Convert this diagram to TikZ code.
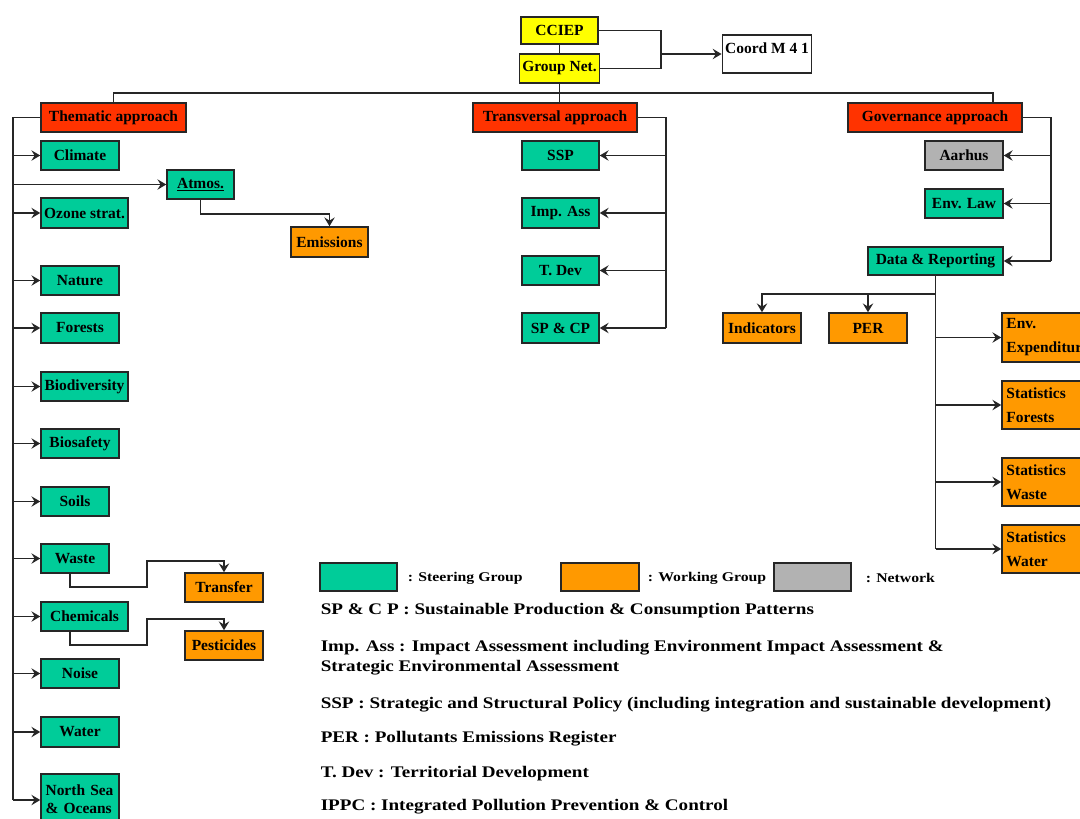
\documentclass[tikz,border=0pt]{standalone}
\usepackage{fontspec}
\setmainfont{Liberation Serif}
\newfontfamily\widefont{Liberation Serif}[FakeStretch=1.18]
\usetikzlibrary{arrows.meta, positioning, calc}
\definecolor{cyellow}{HTML}{FFFF00}
\definecolor{cred}{HTML}{FF3300}
\definecolor{cgreen}{HTML}{00CC99}
\definecolor{corange}{HTML}{FF9900}
\definecolor{cgrey}{HTML}{B2B2B2}
\definecolor{cline}{HTML}{262626}
\tikzset{
  every picture/.style={line width=1.1pt},
  box/.style={draw=cline, fill=#1, inner sep=2pt, font=\bfseries\fontsize{11}{13}\selectfont},
  box/.default=cgreen,
  sz/.style 2 args={minimum width=#1*0.025cm, minimum height=#2*0.025cm},
  twoline/.style={align=left, text width=#1, inner sep=3pt},
  arrow/.style={-{Stealth[length=2.2mm, width=2.6mm, inset=0.8mm]}, draw=cline},
  link/.style={draw=cline},
  legend/.style={font=\widefont\bfseries\fontsize{11.5}{14.2}\selectfont, anchor=west, inner sep=0pt, align=left},
  key/.style={font=\widefont\bfseries\fontsize{9.5}{11}\selectfont, anchor=west, inner sep=0pt},
}

\begin{document}
\begin{tikzpicture}[x=0.025cm, y=-0.025cm]
  \useasboundingbox (0,0) rectangle (1080,818);
  \clip (0,0) rectangle (1080,818);
  \fill[white] (0,0) rectangle (1080,818);

  \node[box=cyellow, sz={77}{27}] (cciep) at (559.5,30.5) {CCIEP};
  \node[box=cyellow, sz={77}{29}] (groupnet) at (559.5,68.5) {Group Net.};
  \node[box=white, sz={88}{38}, text depth=0.3cm] (coord) at (767,54) {Coord M 4 1};
  \coordinate (jn) at (661,54);
  \draw[link] (cciep) -- (groupnet);
  \draw[link] (cciep.east) -| (jn) |- (groupnet.east);
  \draw[arrow] (jn) -- (coord.west);

  \node[box=cred, sz={145}{29}] (thematic) at (113.5,117.5) {Thematic approach};
  \node[box=cred, sz={164}{29}] (transversal) at (555,117.5) {Transversal approach};
  \node[box=cred, sz={174}{29}] (governance) at (935,117.5) {Governance approach};
  \coordinate (bus) at (560,93);
  \draw[link] (groupnet.south) -- (groupnet.south |- transversal.north);
  \draw[link] (thematic.north) |- (bus) -| ([xshift=1.45cm]governance.north);

  \node[box, sz={78}{29}] (climate) at (80,155.5) {Climate};
  \node[box, sz={67}{29}] (atmos) at (200.5,184.5) {\underline{Atmos.}};
  \node[box, sz={87}{30}] (ozone) at (84.5,213) {Ozone strat.};
  \node[box=corange, sz={77}{30}] (emissions) at (329.5,242) {Emissions};
  \node[box, sz={78}{29}] (nature) at (80,280.5) {Nature};
  \node[box, sz={78}{30}] (forests) at (80,328) {Forests};
  \node[box, sz={87}{29}] (biodiv) at (84.5,386.5) {Biodiversity};
  \node[box, sz={78}{29}] (biosafety) at (80,443.5) {Biosafety};
  \node[box, sz={68}{29}] (soils) at (75,501.5) {Soils};
  \node[box, sz={68}{29}] (waste) at (75,558.5) {Waste};
  \node[box=corange, sz={78}{29}] (transfer) at (224,587.5) {Transfer};
  \node[box, sz={87}{29}] (chemicals) at (84.5,616.5) {Chemicals};
  \node[box=corange, sz={78}{29}] (pesticides) at (224,645.5) {Pesticides};
  \node[box, sz={78}{29}] (noise) at (80,673.5) {Noise};
  \node[box, sz={78}{30}] (water) at (80,732) {Water};
  \node[box, sz={78}{50}, twoline=1.72cm] (northsea) at (80,799) {North Sea\\\& Oceans};
  \coordinate (tl) at (13,800);
  \draw[link] (thematic.west) -| (tl);
  \foreach \n in {climate, atmos, ozone, nature, forests, biodiv, biosafety, soils, waste, chemicals, noise, water}
    \draw[arrow] (tl |- \n.west) -- (\n.west);
  \draw[arrow] (tl) -- (tl -| northsea.west);
  \draw[arrow] (atmos.south) -- ++(0,14) -| (emissions.north);
  \draw[arrow] ([xshift=-0.125cm]waste.south) -- ++(0,13) -| ++(77,-26) -| (transfer.north);
  \draw[arrow] ([xshift=-0.36cm]chemicals.south) -- ++(0,13) -| ++(77,-26) -| (pesticides.north);

  \node[box, sz={77}{29}] (ssp) at (560.5,155.5) {SSP};
  \node[box, sz={77}{30}] (impass) at (560.5,213) {Imp. Ass};
  \node[box, sz={77}{29}] (tdev) at (560.5,270.5) {T. Dev};
  \node[box, sz={77}{30}] (spcp) at (560.5,328) {SP \& CP};
  \coordinate (tv) at (666,328);
  \draw[link] (transversal.east) -| (tv);
  \foreach \n in {ssp, impass, tdev, spcp}
    \draw[arrow] (tv |- \n.east) -- (\n.east);

  \node[box=cgrey, sz={78}{29}] (aarhus) at (964,155.5) {Aarhus};
  \node[box, sz={78}{29}] (envlaw) at (964,203.5) {Env. Law};
  \node[box, sz={135}{28}] (datarep) at (935.5,261) {Data \& Reporting};
  \coordinate (gv) at (1051,261);
  \draw[link] (governance.east) -| (gv);
  \foreach \n in {aarhus, envlaw, datarep}
    \draw[arrow] (gv |- \n.east) -- (\n.east);

  \node[box=corange, sz={78}{30}] (indicators) at (762,328) {Indicators};
  \node[box=corange, sz={78}{30}] (per) at (868,328) {PER};
  \node[box=corange, sz={95}{49}, twoline=2.15cm] (envexp) at (1049.5,337.5) {Env.\\[4pt]Expenditure};
  \node[box=corange, sz={95}{48}, twoline=2.15cm] (statfor) at (1049.5,405) {Statistics\\[4pt]Forests};
  \node[box=corange, sz={95}{48}, twoline=2.15cm] (statwaste) at (1049.5,482) {Statistics\\[4pt]Waste};
  \node[box=corange, sz={95}{48}, twoline=2.15cm] (statwater) at (1049.5,549) {Statistics\\[4pt]Water};
  \coordinate (db) at (935.5,294);
  \coordinate (dv) at (935.5,549);
  \draw[link] (datarep.south) -- (dv);
  \draw[arrow] (db) -| (indicators.north);
  \draw[arrow] (db -| per.north) -- (per.north);
  \foreach \n in {envexp, statfor, statwaste, statwater}
    \draw[arrow] (dv |- \n.west) -- (\n.west);

  \node[box, sz={77}{28}] (kgreen) at (358.5,577) {};
  \node[box=corange, sz={78}{28}] (korange) at (600,577) {};
  \node[box=cgrey, sz={77}{28}] (kgrey) at (812.5,577) {};
  \node[key] (lgreen) at (407,578) {: Steering Group};
  \node[key] (lorange) at (647,578) {: Working Group};
  \node[key] (lgrey) at (865,578) {: Network};

  \node[legend] (spdef) at (320,611) {SP \& C P : Sustainable Production \& Consumption Patterns};
  \node[legend] (impdef) at (320,658) {Imp. Ass : Impact Assessment including Environment Impact Assessment \&\\Strategic Environmental Assessment};
  \node[legend] (sspdef) at (320,705) {SSP : Strategic and Structural Policy (including integration and sustainable development)};
  \node[legend] (perdef) at (320,739) {PER : Pollutants Emissions Register};
  \node[legend] (tdevdef) at (320,774) {T. Dev : Territorial Development};
  \node[legend] (ippcdef) at (320,807) {IPPC : Integrated Pollution Prevention \& Control};
\end{tikzpicture}
\end{document}
